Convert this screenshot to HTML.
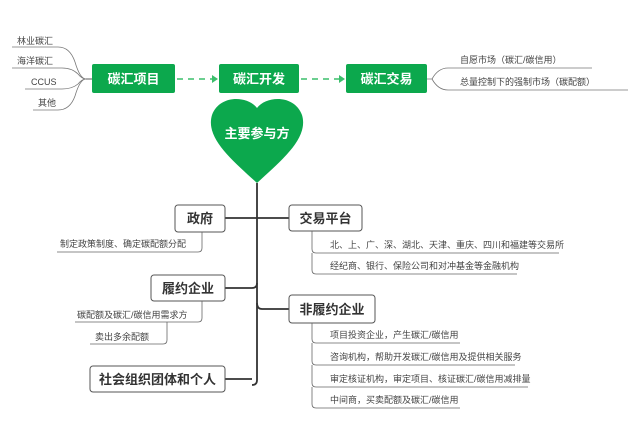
<!DOCTYPE html>
<html><head><meta charset="utf-8"><style>
body{margin:0;background:#fff;}
svg{display:block;font-family:"Liberation Sans","Noto Sans CJK SC",sans-serif;}
.t{font-size:9px;fill:#444;}
.b{font-size:13px;font-weight:bold;fill:#fff;}
.d{font-size:13px;font-weight:bold;fill:#333;}
</style></head><body>
<svg width="644" height="423" viewBox="0 0 644 423">
<rect width="644" height="423" fill="#fff"/>
<!-- left branches -->
<g fill="none" stroke="#777" stroke-width="0.8">
<path d="M12 47 H58 Q70 47 75 62 Q80 79 86 79"/>
<path d="M12 68 H62 Q72 68 78 74 Q82 79 86 79"/>
<path d="M25 89 H62 Q72 89 78 84 Q82 79 86 79"/>
<path d="M33 110 H58 Q70 110 75 96 Q80 79 86 79"/>
<path d="M86 79 H92" stroke="#333"/>
<path d="M427 79 H432 Q438 68 448 68 H592"/>
<path d="M432 79 Q438 90 448 90 H628"/>
</g>
<g class="t">
<text x="17" y="44">林业碳汇</text>
<text x="17" y="64">海洋碳汇</text>
<text x="31" y="85">CCUS</text>
<text x="38" y="106">其他</text>
<text x="460" y="63">自愿市场（碳汇/碳信用）</text>
<text x="460" y="85">总量控制下的强制市场（碳配额）</text>
</g>
<!-- top boxes -->
<rect x="92" y="64" width="83" height="29" rx="2" fill="#0ca84d"/>
<rect x="219" y="64" width="80" height="29" rx="2" fill="#0ca84d"/>
<rect x="346" y="64" width="81" height="29" rx="2" fill="#0ca84d"/>
<text class="b" x="133.5" y="83.5" text-anchor="middle">碳汇项目</text>
<text class="b" x="259" y="83.5" text-anchor="middle">碳汇开发</text>
<text class="b" x="386.5" y="83.5" text-anchor="middle">碳汇交易</text>
<g stroke="#3cbf6c" stroke-width="1.5" stroke-dasharray="6,5" fill="none">
<path d="M177 79 H213"/><path d="M301 79 H340"/>
</g>
<path d="M212 75 L218 79 L212 83Z M339 75 L345 79 L339 83Z" fill="#3cbf6c"/>
<!-- heart -->
<path d="M257 108 C248 96 220 94 212 115 C205 138 232 160 257 183 C282 160 309 138 302 115 C294 94 266 96 257 108Z" fill="#0ca84d"/>
<text class="b" x="257" y="138" text-anchor="middle">主要参与方</text>
<!-- trunk -->
<g fill="none" stroke="#333" stroke-width="1.8">
<path d="M257 183 V380 Q257 385 252 385"/>
<path d="M225 218 H257 M257 218 H289"/>
<path d="M225 288 H252 Q257 288 257 283"/>
<path d="M257 303 Q257 309 262 309 H289"/>
<path d="M225 379 H252"/>
</g>
<g fill="#fff" stroke="#555" stroke-width="1">
<rect x="175" y="205" width="50" height="27" rx="3"/>
<rect x="151" y="275" width="74" height="26" rx="3"/>
<rect x="90" y="366" width="135" height="26" rx="3"/>
<rect x="289" y="205" width="73" height="26" rx="3"/>
<rect x="289" y="295" width="86" height="28" rx="3"/>
</g>
<text class="d" x="200" y="223" text-anchor="middle">政府</text>
<text class="d" x="188" y="293" text-anchor="middle">履约企业</text>
<text class="d" x="157.5" y="384" text-anchor="middle">社会组织团体和个人</text>
<text class="d" x="325.5" y="223" text-anchor="middle">交易平台</text>
<text class="d" x="332" y="314" text-anchor="middle">非履约企业</text>
<!-- sub lines -->
<g fill="none" stroke="#666" stroke-width="0.8">
<path d="M202 232 V248 Q202 252 198 252 H57"/>
<path d="M202 301 V318 Q202 322 198 322 H75"/>
<path d="M167 322 V340 Q167 344 163 344 H90"/>
<path d="M312 231 V249 Q312 253 316 253 H559"/>
<path d="M312 253 V270 Q312 274 316 274 H517"/>
<path d="M312 323 V339 Q312 343 316 343 H460"/>
<path d="M312 343 V361 Q312 365 316 365 H515"/>
<path d="M312 365 V383 Q312 387 316 387 H528"/>
<path d="M312 387 V404 Q312 408 316 408 H460"/>
</g>
<g class="t" font-size="8.5">
<text x="60" y="247">制定政策制度、确定碳配额分配</text>
<text x="77" y="318">碳配额及碳汇/碳信用需求方</text>
<text x="95" y="340">卖出多余配额</text>
<text x="330" y="248">北、上、广、深、湖北、天津、重庆、四川和福建等交易所</text>
<text x="330" y="269">经纪商、银行、保险公司和对冲基金等金融机构</text>
<text x="330" y="338">项目投资企业，产生碳汇/碳信用</text>
<text x="330" y="360">咨询机构，帮助开发碳汇/碳信用及提供相关服务</text>
<text x="330" y="382">审定核证机构，审定项目、核证碳汇/碳信用减排量</text>
<text x="330" y="403">中间商，买卖配额及碳汇/碳信用</text>
</g>
</svg>
</body></html>
